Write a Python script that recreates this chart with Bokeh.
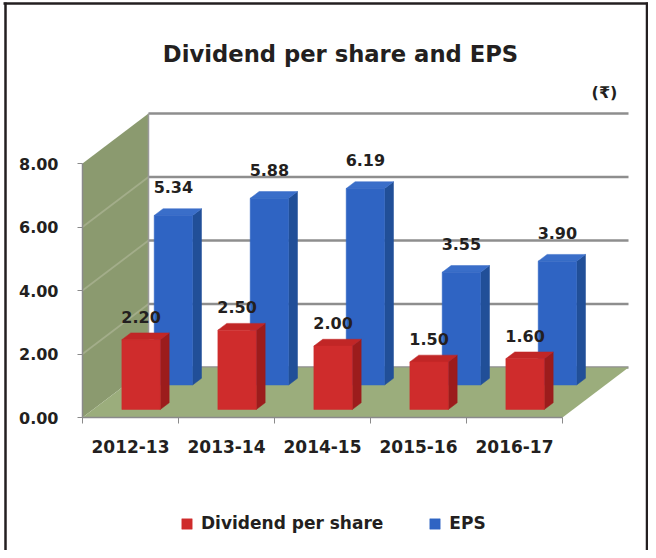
from bokeh.plotting import figure
from bokeh.models import Range1d, FixedTicker, Legend, LegendItem, Label, ColumnDataSource
from bokeh.embed import file_html
from bokeh.resources import INLINE
from bokeh.core.properties import value

# ---------------- data ----------------
categories = ["2012-13", "2013-14", "2014-15", "2015-16", "2016-17"]
dividend_per_share = [2.20, 2.50, 2.00, 1.50, 1.60]
eps = [5.34, 5.88, 6.19, 3.55, 3.90]
y_ticks = [0, 2, 4, 6, 8]
series_names = ["Dividend per share", "EPS"]
chart_title = "Dividend per share and EPS"
unit_text = "(\u20b9)"

# ---------------- layout / style constants ----------------
W, H = 648, 550
ORIGIN_X = 82            # px from figure left to value axis
ORIGIN_Y = 133           # px from figure bottom to category axis
PX_PER_CAT = 96.0
PX_PER_VAL = 31.75
DX = 66 / PX_PER_CAT     # oblique depth offset (x units)
DY = 50 / PX_PER_VAL     # oblique depth offset (y units)
BAR_W = 0.4
BAR_D = 0.135
ROW_DEPTH = [0.16, 0.65]
LABEL_GAP = [0.72, 0.9]
FACE = [("#cf2c2c", "#9c1c1c", "#c12626"), ("#2f64c3", "#214f98", "#3a6ec9")]
TXT = "#231f20"
FONT = "DejaVu Sans"
N = len(categories)
Y_MAX = y_ticks[-1]


def px_x(px):          # horizontal pixel (from left) -> data x
    return (px - ORIGIN_X) / PX_PER_CAT


def px_y(py):          # vertical pixel (from top) -> data y
    return (H - py - ORIGIN_Y) / PX_PER_VAL


p = figure(width=W, height=H,
           x_range=Range1d(px_x(0), px_x(W)),
           y_range=Range1d(px_y(H), px_y(0)),
           output_backend="svg", toolbar_location=None)
p.min_border = 0
p.min_border_left = 0
p.min_border_right = 0
p.min_border_bottom = 0
p.min_border_top = 0
p.outline_line_color = None
p.xgrid.visible = False
p.ygrid.visible = False
p.background_fill_color = "white"

# outer frame lines (left, top, right)
p.segment(x0=[px_x(5), px_x(3), px_x(W - 1.5)], y0=[px_y(H), px_y(3), px_y(H)],
          x1=[px_x(5), px_x(W), px_x(W - 1.5)], y1=[px_y(2), px_y(3), px_y(2)],
          line_color="#231f20", line_width=2.5)

# title
p.add_layout(Label(x=340, y=H - 53, x_units="screen", y_units="screen", text=chart_title,
                   text_align="center", text_baseline="alphabetic", text_font=FONT,
                   text_font_style="bold", text_font_size="22.7px", text_color=TXT))

# ---------------- walls & floor ----------------
p.patch([0, 0, DX, DX], [0, Y_MAX, Y_MAX + DY, DY], fill_color="#8b9a6f", line_color=None)
p.segment(x0=[0] * (len(y_ticks) - 2), y0=y_ticks[1:-1],
          x1=[DX] * (len(y_ticks) - 2), y1=[t + DY for t in y_ticks[1:-1]],
          line_color="#a3ad8a", line_width=1.8)
p.segment(x0=[DX] * len(y_ticks), y0=[t + DY for t in y_ticks],
          x1=[N + DX] * len(y_ticks), y1=[t + DY for t in y_ticks],
          line_color="#8e8e8e", line_width=2.5)
p.segment(x0=[DX], y0=[DY], x1=[DX], y1=[Y_MAX + DY], line_color="#9a9a9a", line_width=1.5)
p.patch([0, N, N + DX, DX], [0, 0, DY, DY], fill_color="#9bad7c", line_color=None)


# ---------------- bars ----------------
def bar_geometry(vals, depth):
    g = {"l": [], "r": [], "b": [], "t": [], "sx": [], "sy": [], "tx": [], "ty": [], "cx": []}
    ddx, ddy = BAR_D * DX, BAR_D * DY
    for i, v in enumerate(vals):
        cx = i + 0.5 + depth * DX
        b = depth * DY
        l, r, t = cx - BAR_W / 2, cx + BAR_W / 2, b + v
        g["l"].append(l); g["r"].append(r); g["b"].append(b); g["t"].append(t); g["cx"].append(cx)
        g["sx"].append([r, r, r + ddx, r + ddx]); g["sy"].append([b, t, t + ddy, b + ddy])
        g["tx"].append([l, r, r + ddx, l + ddx]); g["ty"].append([t, t, t + ddy, t + ddy])
    return g


front_renderers = {}
series_vals = [dividend_per_share, eps]
for s in [1, 0]:  # back row first
    g = bar_geometry(series_vals[s], ROW_DEPTH[s])
    front, side, top = FACE[s]
    p.patches(g["sx"], g["sy"], fill_color=side, line_color=side, line_width=0.5)
    p.patches(g["tx"], g["ty"], fill_color=top, line_color=top, line_width=0.5)
    r = p.quad(left=g["l"], right=g["r"], bottom=g["b"], top=g["t"],
               fill_color=front, line_color=front, line_width=0.5)
    front_renderers[s] = r
    src = ColumnDataSource(dict(x=g["cx"], y=[t + LABEL_GAP[s] for t in g["t"]],
                                txt=["%.2f" % v for v in series_vals[s]]))
    p.text(x="x", y="y", text="txt", source=src, text_align="center", text_baseline="middle",
           text_font=value(FONT), text_font_style="bold", text_font_size="16px", text_color=TXT)

# unit label
p.add_layout(Label(x=N + DX - 0.25, y=Y_MAX + DY + 0.65, text=unit_text, text_align="center",
                   text_baseline="middle", text_font=FONT, text_font_style="bold",
                   text_font_size="16px", text_color=TXT))

# ---------------- axes ----------------
ya = p.yaxis[0]
ya.fixed_location = 0
ya.bounds = (0, Y_MAX)
ya.ticker = FixedTicker(ticks=y_ticks)
ya.major_label_overrides = {t: "%.2f" % t for t in y_ticks}
ya.axis_line_color = "#8a8a8a"
ya.axis_line_width = 1.5
ya.major_tick_line_color = "#8a8a8a"
ya.major_tick_out = 5
ya.major_tick_in = 0
ya.minor_tick_line_color = None
ya.major_label_standoff = 19
ya.major_label_text_font = FONT
ya.major_label_text_font_style = "bold"
ya.major_label_text_font_size = "16px"
ya.major_label_text_color = TXT

xa = p.xaxis[0]
xa.fixed_location = 0
xa.bounds = (0, N)
xa.ticker = FixedTicker(ticks=[i + 0.5 for i in range(N)], minor_ticks=list(range(N + 1)))
xa.major_label_overrides = {i + 0.5: c for i, c in enumerate(categories)}
xa.axis_line_color = "#8a8a8a"
xa.axis_line_width = 1.5
xa.major_tick_line_color = None
xa.major_tick_out = 0
xa.major_tick_in = 0
xa.minor_tick_line_color = "#8a8a8a"
xa.minor_tick_out = 6
xa.minor_tick_in = 0
xa.major_label_standoff = 16
xa.major_label_text_font = FONT
xa.major_label_text_font_style = "bold"
xa.major_label_text_font_size = "17px"
xa.major_label_text_color = TXT

# ---------------- legend ----------------
legend = Legend(items=[LegendItem(label=series_names[0], renderers=[front_renderers[0]]),
                       LegendItem(label=series_names[1], renderers=[front_renderers[1]])],
                orientation="horizontal", location=(180, 17),
                glyph_width=13, glyph_height=13, label_standoff=8, spacing=45,
                padding=0, margin=0, border_line_color=None, background_fill_alpha=0,
                label_text_font=FONT, label_text_font_style="bold",
                label_text_font_size="17px", label_text_color=TXT)
p.add_layout(legend)

open("out.html", "w").write(file_html(p, INLINE))
